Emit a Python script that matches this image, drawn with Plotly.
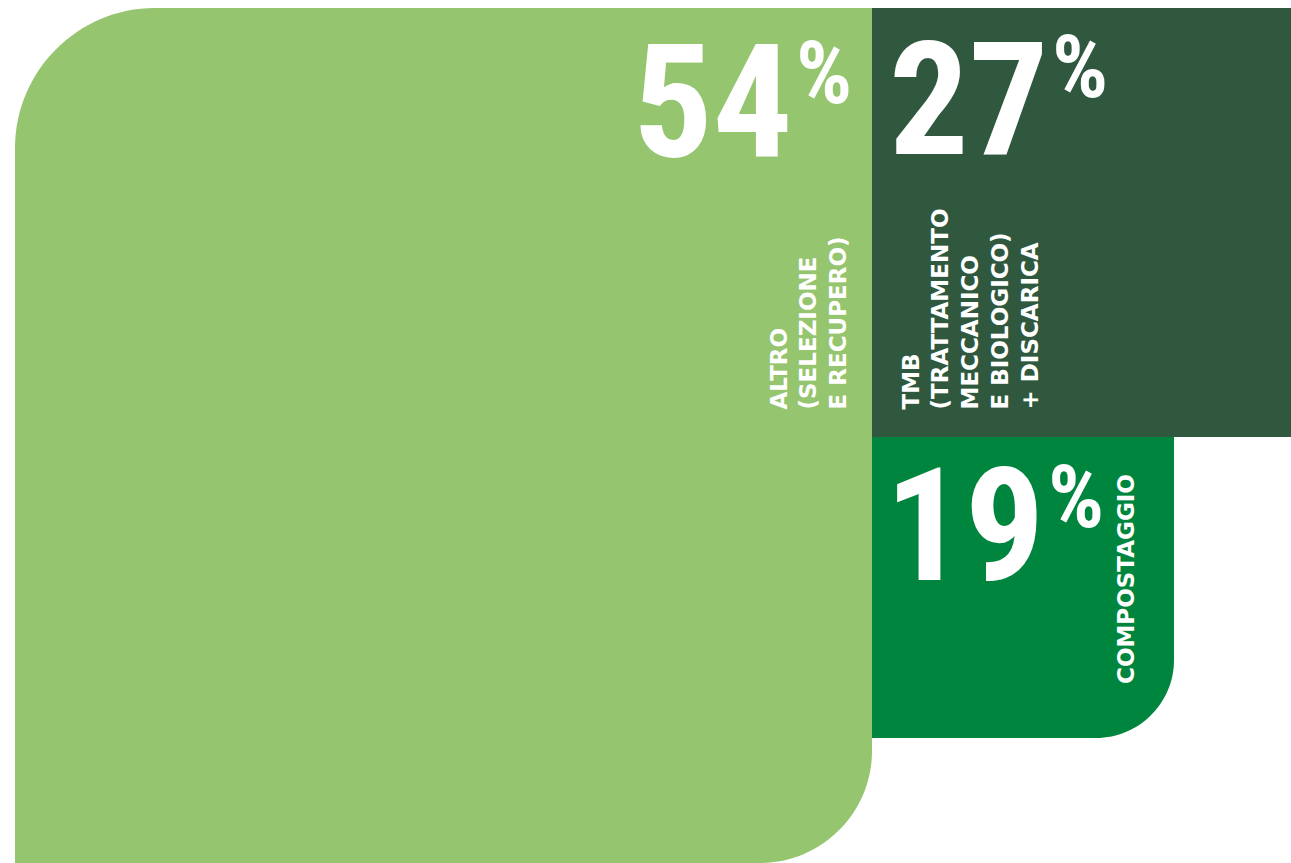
import plotly.graph_objects as go

# ---- data ----
categories = ["ALTRO<br>(SELEZIONE<br>E RECUPERO)",
              "TMB<br>(TRATTAMENTO<br>MECCANICO<br>E BIOLOGICO)<br>+ DISCARICA",
              "COMPOSTAGGIO"]
percents = [54, 27, 19]
colors = ["#95C56F", "#2F583F", "#00853E"]

# ---- layout geometry (pixel canvas) ----
W, H = 1291, 863
# x0, y0, x1, y1, radii (tl, tr, br, bl)
boxes = [
    (15, 8, 872, 863, (140, 0, 112, 0)),
    (872, 8, 1291, 437, (0, 0, 0, 0)),
    (872, 437, 1174, 738, (0, 0, 78, 0)),
]
# number right edge x, number centre y, percent-sign centre y
num_right = [794, 1050, 1046]
num_y = [102, 100, 526]
pct_y = [72, 66, 496]
lab_pos = [(763, 412), (895, 412), (1111, 686)]
lab_size = [23, 23, 23]


def rounded_path(x0, y0, x1, y1, r):
    tl, tr, br, bl = r
    p = f"M {x0+tl},{y0} L {x1-tr},{y0} "
    if tr:
        p += f"Q {x1},{y0} {x1},{y0+tr} "
    p += f"L {x1},{y1-br} "
    if br:
        p += f"C {x1},{y1-br*0.45} {x1-br*0.45},{y1} {x1-br},{y1} "
    p += f"L {x0+bl},{y1} "
    if bl:
        p += f"Q {x0},{y1} {x0},{y1-bl} "
    p += f"L {x0},{y0+tl} "
    if tl:
        p += f"C {x0},{y0+tl*0.45} {x0+tl*0.45},{y0} {x0+tl},{y0} "
    return p + "Z"


fig = go.Figure()
shapes = []
for (x0, y0, x1, y1, r), c in zip(boxes, colors):
    shapes.append(dict(type="path", path=rounded_path(x0, y0, x1, y1, r),
                       xref="x", yref="y", fillcolor=c, line=dict(width=0),
                       layer="below"))

numfont = "Liberation Sans Narrow, Roboto Condensed, DejaVu Sans Condensed, sans-serif"
annotations = []
for i, p in enumerate(percents):
    annotations.append(dict(x=num_right[i], y=num_y[i], xref="x", yref="y",
                            text=str(p), showarrow=False, xanchor="right",
                            yanchor="middle", borderpad=0,
                            font=dict(family=numfont, size=158, color="white",
                                      weight="bold")))
    annotations.append(dict(x=num_right[i] + 1, y=pct_y[i], xref="x", yref="y",
                            text="%", showarrow=False, xanchor="left",
                            yanchor="middle", borderpad=0,
                            font=dict(family=numfont, size=88, color="white",
                                      weight="bold")))
    lx, ly = lab_pos[i]
    annotations.append(dict(x=lx, y=ly, xref="x", yref="y", text=categories[i],
                            showarrow=False, xanchor="left", yanchor="bottom",
                            textangle=-90, align="left",
                            font=dict(family="DejaVu Sans", size=lab_size[i],
                                      color="white", weight="bold")))

fig.add_trace(go.Scatter(x=[0, W], y=[0, H], mode="markers",
                         marker=dict(opacity=0), hoverinfo="skip",
                         showlegend=False))

fig.update_layout(
    width=W, height=H, margin=dict(l=0, r=0, t=0, b=0),
    paper_bgcolor="white", plot_bgcolor="white",
    xaxis=dict(range=[0, W], visible=False, fixedrange=True),
    yaxis=dict(range=[H, 0], visible=False, fixedrange=True),
    shapes=shapes, annotations=annotations, showlegend=False,
)
fig.write_html("out.html", post_script="document.body.style.margin='0';",
               config={"displayModeBar": False})
